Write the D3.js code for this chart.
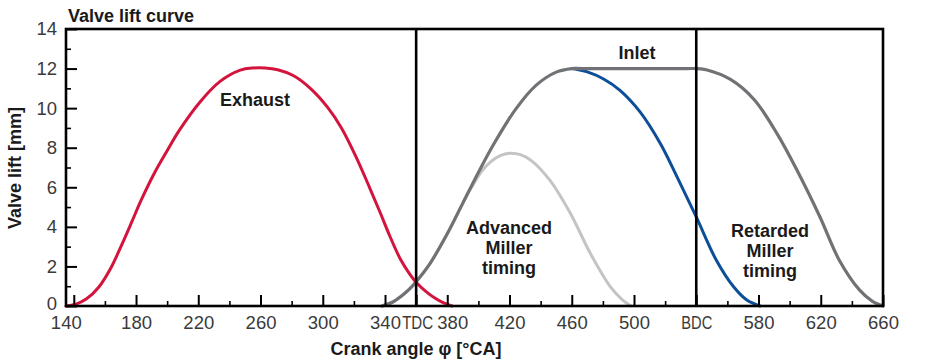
<!DOCTYPE html>
<meta charset="utf-8">
<script src="https://cdn.jsdelivr.net/npm/d3@7"></script>
<style>
body { margin: 0; background: #fff; }
text { font-family: "Liberation Sans", Arial, sans-serif; }
</style>
<svg id="chart" width="945" height="364"></svg>
<script>
// valve lift readings, [crank angle, lift mm]
const exhaust = [[135,0],[141,0.08],[148,0.35],[156,0.95],[164,1.95],[170,2.95],[177,4.2],[183,5.3],[192,6.75],[200,7.85],[208,8.9],[221,10.3],[234,11.35],[247,11.92],[255,12.03],[263,12.03],[271,11.94],[281,11.65],[292,11.0],[303,10.05],[312,9.0],[321,7.6],[330,6.0],[337,4.7],[343,3.55],[350,2.35],[356,1.6],[360,1.2],[366,0.75],[372,0.4],[377,0.18],[383,0]]
const inletRetarded = [[338,0],[345,0.2],[350,0.47],[355,0.8],[360,1.23],[369,2.16],[380,3.65],[390,5.2],[400,6.75],[410,8.2],[424,9.95],[437,11.15],[450,11.82],[460,12],[466,12],[534,12],[540,12],[547,11.93],[562,11.45],[577,10.45],[592,8.7],[604.5,6.9],[619.5,4.5],[632,2.3],[645,0.8],[653,0.25],[660,0]]
const inletNormal = [[460,12],[470,11.83],[481,11.45],[491,10.9],[504,9.8],[517,8.2],[527.5,6.55],[540,4.5],[553,2.3],[564,0.97],[572.5,0.3],[581,0]]
const inletAdvanced = [[338,0],[345,0.2],[350,0.47],[355,0.8],[360,1.23],[369,2.16],[380,3.65],[390,5.2],[396,6.05],[402,6.8],[408,7.3],[414,7.6],[420,7.72],[427,7.65],[434,7.35],[446,6.35],[459,4.7],[472,2.65],[485,0.95],[492,0.35],[498,0]]

const xMajor = [140,180,220,260,300,340,360,380,420,460,500,540,580,620,660]
const xMinor = [160,200,240,280,320,400,440,480,520,560,600,640]
const xNames = {360: "TDC", 540: "BDC"}
const yMajor = [0,2,4,6,8,10,12,14]
const yMinor = [1,3,5,7,9,11,13]
const markers = [360, 540]

const svg = d3.select("#chart")
const m = {left: 66, right: 62, top: 29, bottom: 58}
const W = 945, H = 364

const x = d3.scaleLinear().domain([135, 660]).range([m.left, W - m.right])
const y = d3.scaleLinear().domain([0, 14]).range([H - m.bottom, m.top])

const line = d3.line()
  .x(d => x(d[0]))
  .y(d => y(d[1]))
  .curve(d3.curveCatmullRom.alpha(0.5))

// curves
const series = [
  {data: inletAdvanced, color: "#c4c4c4", w: 3},
  {data: inletNormal, color: "#0d4e98", w: 3},
  {data: inletRetarded, color: "#707275", w: 3.2},
  {data: exhaust, color: "#d3143d", w: 3}
]
svg.append("g").selectAll("path")
  .data(series)
  .join("path")
    .attr("d", d => line(d.data))
    .attr("fill", "none")
    .attr("stroke", d => d.color)
    .attr("stroke-width", d => d.w)
    .attr("stroke-linecap", "round")

// TDC / BDC lines
svg.append("g").selectAll("line")
  .data(markers)
  .join("line")
    .attr("x1", d => x(d)).attr("x2", d => x(d))
    .attr("y1", y(14)).attr("y2", y(0))
    .attr("stroke", "#000")
    .attr("stroke-width", 2.6)

// axes, ticks pointing inward
const xAxis = svg.append("g")
  .attr("transform", `translate(0,${y(0)})`)
  .call(d3.axisBottom(x).tickValues(xMajor).tickSizeInner(-11).tickSizeOuter(0).tickPadding(10)
    .tickFormat(d => xNames[d] || d))
xAxis.select(".domain").remove()
xAxis.selectAll("line").attr("stroke", "#000").attr("stroke-width", 2)
xAxis.selectAll("text")
  .attr("font-size", 18.5)
  .attr("fill", "#3a3a3a")
  .attr("dx", d => d == 140 ? -8 : (d == 360 ? 1 : (d == 380 ? 5 : 0)))
  .filter(d => xNames[d])
    .attr("textLength", 31)
    .attr("lengthAdjust", "spacingAndGlyphs")

const xAxisMinor = svg.append("g")
  .attr("transform", `translate(0,${y(0)})`)
  .call(d3.axisBottom(x).tickValues(xMinor).tickSizeInner(-5).tickSizeOuter(0).tickFormat(""))
xAxisMinor.select(".domain").remove()
xAxisMinor.selectAll("line").attr("stroke", "#000").attr("stroke-width", 1.6)

const yAxis = svg.append("g")
  .attr("transform", `translate(${m.left},0)`)
  .call(d3.axisLeft(y).tickValues(yMajor).tickSizeInner(-11).tickSizeOuter(0).tickPadding(9))
yAxis.select(".domain").remove()
yAxis.selectAll("line").attr("stroke", "#000").attr("stroke-width", 2)
yAxis.selectAll("text").attr("font-size", 18.5).attr("fill", "#3a3a3a")
  .attr("dy", d => d == 0 ? "0.2em" : "0.32em")

const yAxisMinor = svg.append("g")
  .attr("transform", `translate(${m.left},0)`)
  .call(d3.axisLeft(y).tickValues(yMinor).tickSizeInner(-5).tickSizeOuter(0).tickFormat(""))
yAxisMinor.select(".domain").remove()
yAxisMinor.selectAll("line").attr("stroke", "#000").attr("stroke-width", 1.6)

// frame
svg.append("rect")
  .attr("x", x(135)).attr("y", y(14))
  .attr("width", x(660) - x(135)).attr("height", y(0) - y(14))
  .attr("fill", "none")
  .attr("stroke", "#000")
  .attr("stroke-width", 2.6)

// titles
svg.append("text")
  .attr("x", 68).attr("y", 22)
  .attr("font-size", 18).attr("font-weight", "bold").attr("fill", "#1a1a1a")
  .text("Valve lift curve")

svg.append("text")
  .attr("transform", "translate(21,168) rotate(-90)")
  .attr("text-anchor", "middle")
  .attr("font-size", 18).attr("font-weight", "bold").attr("fill", "#1a1a1a")
  .text("Valve lift [mm]")

svg.append("text")
  .attr("x", 416).attr("y", 355)
  .attr("text-anchor", "middle")
  .attr("font-size", 18).attr("font-weight", "bold").attr("fill", "#1a1a1a")
  .text("Crank angle φ [°CA]")

// curve labels
const labels = [
  {lines: ["Exhaust"], x: 255, y: 106},
  {lines: ["Inlet"], x: 637, y: 59},
  {lines: ["Advanced", "Miller", "timing"], x: 509, y: 234},
  {lines: ["Retarded", "Miller", "timing"], x: 770, y: 237}
]
labels.forEach(l => {
  const t = svg.append("text")
    .attr("text-anchor", "middle")
    .attr("font-size", 18).attr("font-weight", "bold").attr("fill", "#1a1a1a")
  l.lines.forEach((s, i) => {
    t.append("tspan").attr("x", l.x).attr("y", l.y + i * 20).text(s)
  })
})
</script>
